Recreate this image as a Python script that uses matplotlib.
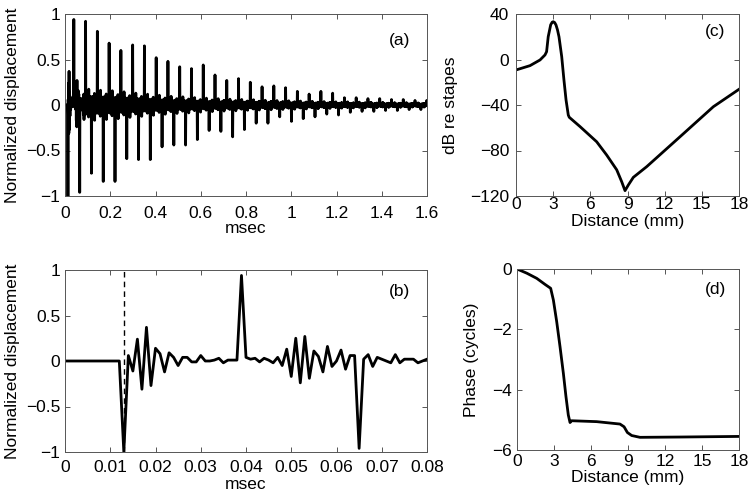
import numpy as np
import matplotlib
matplotlib.use("Agg")
import matplotlib.pyplot as plt

plt.rcParams['font.family'] = ['Liberation Sans', 'DejaVu Sans']
plt.rcParams['font.size'] = 12.5

# ---------------- data ----------------
# panel (b): first 0.08 msec, sampled every 0.001 msec
b_time_step = 0.001
b_values = [0, 0, 0, 0, 0, 0, 0, 0, 0, 0, 0, 0, 0,
            -1.0, 0.06, -0.11, 0.24, -0.31, 0.37, -0.27, 0.14, 0.08, -0.12,
            0.09, 0.04, -0.05, 0.04, 0.04, -0.01, -0.01, 0.06, 0.0, 0.0,
            0.01, 0.03, -0.02, 0.01, 0.01, 0.01,
            0.94, 0.04, 0.02, 0.03, -0.01, 0.03, 0.01, -0.02, 0.04, -0.05,
            0.13, -0.17, 0.25, -0.24, 0.27, -0.19, 0.11, 0.05, -0.12, 0.16,
            -0.06, 0.0, 0.12, -0.09, 0.06, 0.06,
            -0.96, 0.02, 0.07, -0.06, 0.04, 0.02, 0.0, -0.02, 0.07, -0.02,
            0.02, 0.02, 0.02, -0.02, 0.0, 0.02]
b_marker_time = 0.013

# panel (a): spike train (period 0.026 msec, first spike at 0.013 msec)
spike_t0 = 0.013
spike_period = 0.026
spike_amps = [-1.00, 0.94, -0.96, 0.92, -0.75, 0.81, -0.84, 0.68, -0.84, 0.60,
              -0.59, 0.66, -0.60, 0.65, -0.60, 0.52, -0.46, 0.48, -0.44, 0.42,
              -0.44, 0.40, -0.38, 0.44, -0.28, 0.33, -0.29, 0.27, -0.35, 0.29,
              -0.27, 0.25, -0.20, 0.20, -0.20, 0.21, -0.13, 0.19, -0.18, 0.15,
              -0.15, 0.12, -0.13, 0.15, -0.10, 0.13, -0.11, 0.08, -0.08, 0.08,
              -0.07, 0.07, -0.07, 0.07, -0.06, 0.06, -0.06, 0.06, -0.05, 0.05,
              -0.05, 0.05]
# ringing level between spikes (relative to the ringing seen in panel (b))
ring_scale = [1.0, 1.0, 1.0, 0.60, 0.58, 0.56, 0.55, 0.54, 0.52, 0.50,
              0.47, 0.45, 0.43, 0.41, 0.39, 0.37, 0.35, 0.33, 0.32, 0.31,
              0.30, 0.28, 0.27, 0.26, 0.25, 0.24, 0.23, 0.22, 0.22, 0.21,
              0.20, 0.20, 0.19, 0.18, 0.18, 0.17, 0.17, 0.16, 0.16, 0.15,
              0.15, 0.14, 0.14, 0.13, 0.13, 0.12, 0.12, 0.12, 0.11, 0.11,
              0.11, 0.10, 0.10, 0.10, 0.09, 0.09, 0.09, 0.09, 0.08, 0.08,
              0.08, 0.08]
a_tmax = 1.6

# panel (c): magnitude vs distance
c_dist = [0, 1.13, 1.94, 2.34, 2.47, 2.6, 2.8, 2.92, 3.01, 3.12, 3.23, 3.35,
          3.47, 3.69, 3.87, 4.04, 4.22, 4.3, 5.17, 6.51, 7.32, 8.13, 8.53,
          8.8, 9.07, 9.47, 10.55, 13.24, 15.93, 18]
c_db = [-9.2, -5.4, -0.4, 4.0, 6.9, 20.0, 30.5, 32.8, 33.2, 32.5, 30.3, 26.0,
        20.0, 2.5, -18.0, -35.6, -48.8, -50.8, -59.0, -72.3, -84.0, -97.0,
        -107.4, -115.3, -110.3, -103.6, -94.2, -67.9, -41.5, -26.2]

# panel (d): phase vs distance
d_dist = [0, 0.8, 1.6, 2.27, 2.73, 2.95, 3.22, 3.49, 3.76, 3.97, 4.16, 4.3,
          4.43, 6.46, 8.35, 8.68, 8.95, 9.3, 9.97, 13.2, 18]
d_phase = [0, -0.14, -0.31, -0.51, -0.64, -1.03, -1.75, -2.58, -3.46, -4.23,
           -4.84, -5.09, -5.03, -5.06, -5.14, -5.23, -5.42, -5.52, -5.58,
           -5.57, -5.55]

# ---------------- build panel (a) signal ----------------
b_arr = np.array(b_values)
n_a = int(round(a_tmax / b_time_step)) + 1
sig = np.zeros(n_a)
sig[:len(b_arr)] = b_arr
# ringing that follows a spike, taken from the two spike responses in (b)
template = 0.5 * b_arr[14:39] + b_arr[40:65]
for k, (amp, rs) in enumerate(zip(spike_amps, ring_scale)):
    idx = int(round((spike_t0 + k * spike_period) / b_time_step))
    if len(b_arr) <= idx < n_a:
        sig[idx] = amp
    sgn = 1 if k % 2 else -1
    for j, v in enumerate(template):
        p = idx + 1 + j
        if len(b_arr) <= p < n_a:
            sig[p] = rs * v * sgn
t_a = np.arange(n_a) * b_time_step
t_b = np.arange(len(b_arr)) * b_time_step

# ---------------- figure ----------------
W, H = 750, 496
fig = plt.figure(figsize=(W / 100, H / 100), dpi=100)

def px_axes(x0, y0, x1, y1):
    return fig.add_axes([x0 / W, 1 - y1 / H, (x1 - x0) / W, (y1 - y0) / H])

ax_a = px_axes(65, 14, 427, 196)
ax_b = px_axes(65, 270, 427, 452)
ax_c = px_axes(516, 14, 739, 196)
ax_d = px_axes(517, 269, 739, 450)

spine_col = '#555555'
for ax in (ax_a, ax_b, ax_c, ax_d):
    for s in ax.spines.values():
        s.set_color(spine_col)
        s.set_linewidth(0.7)
    ax.tick_params(direction='in', top=True, right=True, length=3.5,
                   width=0.7, color=spine_col, labelsize=12.5)

lw = 2.0
ax_a.plot(t_a, sig, color='black', lw=lw)
ax_a.set_xlim(0, 1.6)
ax_a.set_ylim(-1, 1)
ax_a.set_xticks(np.arange(0, 1.61, 0.2))
ax_a.set_xticklabels(['0', '0.2', '0.4', '0.6', '0.8', '1', '1.2', '1.4', '1.6'])
ax_a.set_yticks([-1, -0.5, 0, 0.5, 1])
ax_a.set_yticklabels(['\u22121', '\u22120.5', '0', '0.5', '1'])
ax_a.tick_params(axis='x', pad=7)
ax_a.tick_params(axis='y', pad=3.5)
ax_a.set_xlabel('msec')
ax_a.set_ylabel('Normalized displacement')
ax_a.xaxis.set_label_coords(0.5, -0.14)
ax_a.yaxis.set_label_coords(-0.125, 0.5)
ax_a.text(0.925, 0.857, '(a)', transform=ax_a.transAxes, ha='center', va='center')

ax_b.plot(t_b, b_arr, color='black', lw=lw)
ax_b.plot([b_marker_time, b_marker_time], [-1, 1], color='black', lw=1.0,
          dashes=(4, 3))
ax_b.set_xlim(0, 0.08)
ax_b.set_ylim(-1, 1)
ax_b.set_xticks(np.arange(0, 0.081, 0.01))
ax_b.set_xticklabels(['0', '0.01', '0.02', '0.03', '0.04', '0.05', '0.06', '0.07', '0.08'])
ax_b.set_yticks([-1, -0.5, 0, 0.5, 1])
ax_b.set_yticklabels(['\u22121', '\u22120.5', '0', '0.5', '1'])
ax_b.tick_params(axis='x', pad=6)
ax_b.tick_params(axis='y', pad=3.5)
ax_b.set_xlabel('msec')
ax_b.set_ylabel('Normalized displacement')
ax_b.xaxis.set_label_coords(0.5, -0.14)
ax_b.yaxis.set_label_coords(-0.125, 0.5)
ax_b.text(0.925, 0.88, '(b)', transform=ax_b.transAxes, ha='center', va='center')

ax_c.plot(c_dist, c_db, color='black', lw=lw)
ax_c.set_xlim(0, 18)
ax_c.set_ylim(-120, 40)
ax_c.set_xticks(np.arange(0, 19, 3))
ax_c.set_yticks([-120, -80, -40, 0, 40])
ax_c.set_yticklabels(['\u2212120', '\u221280', '\u221240', '0', '40'])
ax_c.tick_params(axis='x', pad=1)
ax_c.tick_params(axis='y', pad=5)
ax_c.set_xlabel('Distance (mm)')
ax_c.set_ylabel('dB re stapes')
ax_c.xaxis.set_label_coords(0.5, -0.10)
ax_c.yaxis.set_label_coords(-0.26, 0.5)
ax_c.text(0.892, 0.903, '(c)', transform=ax_c.transAxes, ha='center', va='center')

ax_d.plot(d_dist, d_phase, color='black', lw=lw)
ax_d.set_xlim(0, 18)
ax_d.set_ylim(-6, 0)
ax_d.set_xticks(np.arange(0, 19, 3))
ax_d.set_yticks([-6, -4, -2, 0])
ax_d.set_yticklabels(['\u22126', '\u22124', '\u22122', '0'])
ax_d.tick_params(axis='x', pad=3)
ax_d.tick_params(axis='y', pad=3.5)
ax_d.set_xlabel('Distance (mm)')
ax_d.set_ylabel('Phase (cycles)')
ax_d.xaxis.set_label_coords(0.5, -0.108)
ax_d.yaxis.set_label_coords(-0.171, 0.5)
ax_d.text(0.892, 0.884, '(d)', transform=ax_d.transAxes, ha='center', va='center')

fig.savefig('out.png', dpi=100, facecolor='white')
